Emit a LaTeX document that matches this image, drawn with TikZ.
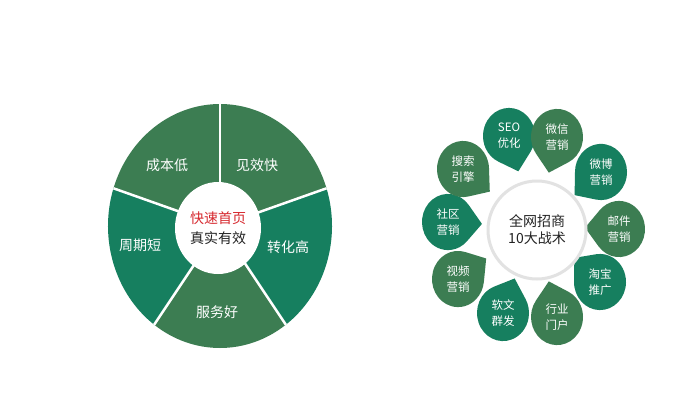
\documentclass[tikz,border=0pt]{standalone}
\usepackage{fontspec}
\newfontfamily\cjk{Noto Sans CJK SC}
\usepackage{tikz}
\usetikzlibrary{calc}
\definecolor{olivegreen}{RGB}{60,125,82}
\definecolor{tealgreen}{RGB}{22,127,95}
\definecolor{headred}{RGB}{214,40,46}
\definecolor{darktext}{RGB}{34,34,34}
\definecolor{ringgray}{RGB}{226,226,226}

\begin{document}
\begin{tikzpicture}[x=1pt,y=1pt,
  segtxt/.style={font=\cjk\fontsize{14}{16}\selectfont,text=white},
  droptxt/.style={font=\cjk\fontsize{11.5}{16}\selectfont,text=white,align=center}]
  \useasboundingbox[fill=white] (0,0) rectangle (700,400);
  % Left wheel
  \coordinate (pie) at (220,174);
  \foreach \a/\b/\col in {90/162/olivegreen,18/90/olivegreen,-54/18/tealgreen,-126/-54/olivegreen,162/234/tealgreen}{
    \fill[color=\col] (pie) -- ($(pie)+(\a:112 and 122)$)
      arc[start angle=\a,end angle=\b,x radius=112,y radius=122] -- cycle;
  }
  \foreach \a in {90,18,-54,-126,162}{
    \draw[white,line width=2.5pt] (pie) -- ($(pie)+(\a:112 and 122)$);
  }
  \fill[white] (218,172) ellipse[x radius=43,y radius=46];
  \node[segtxt] (cbd) at (167,235) {成本低};
  \node[segtxt] (jxk) at (257,235) {见效快};
  \node[segtxt] (zhg) at (288,153) {转化高};
  \node[segtxt] (fwh) at (217,88) {服务好};
  \node[segtxt] (zqd) at (140,155) {周期短};
  \node[font=\cjk\fontsize{14}{16}\selectfont,text=headred] (kssy) at (218,182) {快速首页};
  \node[font=\cjk\fontsize{14}{16}\selectfont,text=darktext] (zsyx) at (218,162) {真实有效};
  % Right flower
  \foreach \x/\y/\ang/\col/\lbl [count=\i] in {
    509/264/-74/tealgreen/{SEO\\优化},
    557/263/-104/olivegreen/{微信\\营销},
    601/228/-141/tealgreen/{微博\\营销},
    619/171/178/olivegreen/{邮件\\营销},
    600/118/139/tealgreen/{淘宝\\推广},
    557/83/104/olivegreen/{行业\\门户},
    503/87/70/tealgreen/{软文\\群发},
    458/121/34/olivegreen/{视频\\营销},
    448/178/-3/tealgreen/{社区\\营销},
    463/231/-38/olivegreen/{搜索\\引擎}}{
    \fill[color=\col,shift={(\x,\y)},yscale=1.08,rotate=\ang]
      (34,0) -- (40:26) arc[start angle=40,end angle=320,radius=26] -- cycle;
    \node[droptxt] (drop\i) at (\x,\y) {\lbl};
  }
  \node[circle,fill=white,draw=ringgray,line width=3pt,minimum size=98pt] (hub) at (537,170) {};
  \node[font=\cjk\fontsize{14}{17}\selectfont,text=darktext,align=center] (hubtxt) at (hub) {全网招商\\10大战术};
\end{tikzpicture}
\end{document}
